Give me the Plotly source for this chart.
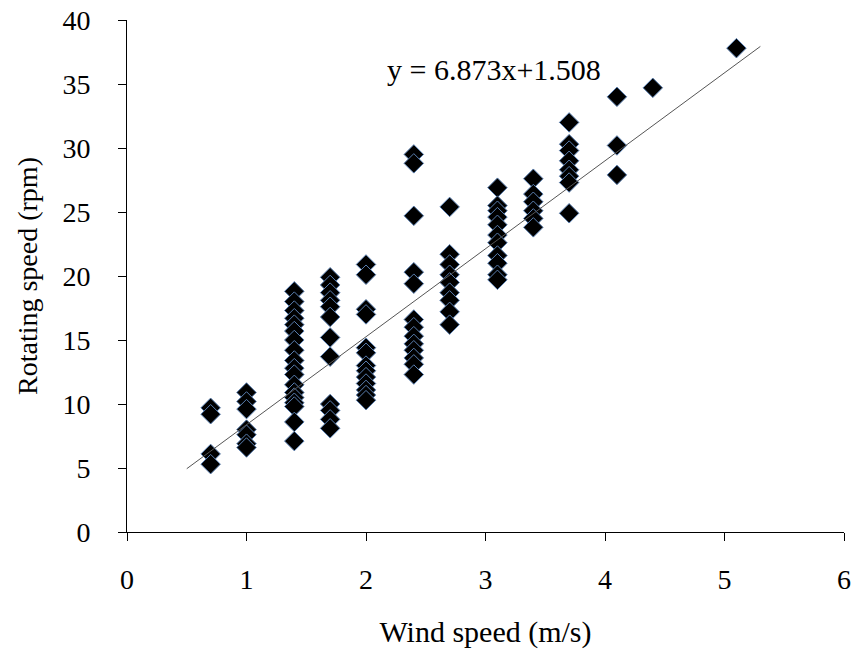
import plotly.graph_objects as go

wind_07 = [0.7] * 4
rot_07 = [9.7, 9.2, 6.1, 5.3]
wind_10 = [1.0] * 7
rot_10 = [10.9, 10.2, 9.6, 8.0, 7.6, 6.9, 6.6]
wind_14 = [1.4] * 18
rot_14 = [18.8, 18.0, 17.3, 16.7, 16.2, 15.7, 15.0, 14.2, 13.4, 12.8, 12.3, 11.5, 10.9, 10.5, 10.1, 9.8, 8.6, 7.1]
wind_17 = [1.7] * 12
rot_17 = [19.9, 19.3, 18.7, 18.1, 17.6, 16.8, 15.2, 13.7, 10.0, 9.5, 8.8, 8.1]
wind_20 = [2.0] * 13
rot_20 = [20.9, 20.1, 17.4, 17.0, 14.4, 14.0, 13.0, 12.6, 12.1, 11.6, 11.1, 10.7, 10.3]
wind_24 = [2.4] * 13
rot_24 = [29.5, 28.8, 24.7, 20.3, 19.4, 16.6, 16.0, 15.3, 14.7, 14.2, 13.6, 13.1, 12.3]
wind_27 = [2.7] * 9
rot_27 = [25.4, 21.7, 20.9, 20.1, 19.5, 18.7, 18.1, 17.2, 16.2]
wind_31 = [3.1] * 11
rot_31 = [26.9, 25.5, 25.1, 24.6, 24.0, 23.2, 22.6, 21.6, 21.0, 20.1, 19.7]
wind_34 = [3.4] * 6
rot_34 = [27.6, 26.4, 25.8, 25.1, 24.5, 23.8]
wind_37 = [3.7] * 8
rot_37 = [32.0, 30.3, 29.8, 29.0, 28.3, 27.8, 27.3, 24.9]
wind_hi = [4.1, 4.1, 4.1, 4.4, 5.1]
rot_hi = [34.0, 30.2, 27.9, 34.7, 37.8]

slope = 6.873
intercept = 1.508
fit_x = [0.5, 5.3]
equation = "y = 6.873x+1.508"

wind = wind_07 + wind_10 + wind_14 + wind_17 + wind_20 + wind_24 + wind_27 + wind_31 + wind_34 + wind_37 + wind_hi
rot = rot_07 + rot_10 + rot_14 + rot_17 + rot_20 + rot_24 + rot_27 + rot_31 + rot_34 + rot_37 + rot_hi

font = "Liberation Serif, Times New Roman, serif"

fig = go.Figure()
fig.add_trace(go.Scatter(
    x=wind, y=rot, mode="markers",
    marker=dict(symbol="diamond", size=15, color="black",
                line=dict(color="#5a7fb0", width=1)),
    showlegend=False,
))
fig.add_trace(go.Scatter(
    x=fit_x, y=[slope * v + intercept for v in fit_x], mode="lines",
    line=dict(color="#555555", width=1), showlegend=False,
))
fig.add_annotation(x=3.07, y=36.1, text=equation, showarrow=False,
                   font=dict(family=font, size=30, color="black"))

fig.update_layout(
    width=845, height=641,
    margin=dict(l=119, r=9, t=12, b=117, autoexpand=False),
    paper_bgcolor="white", plot_bgcolor="white",
    font=dict(family=font, size=28, color="black"),
)
fig.update_xaxes(
    range=[0, 6], dtick=1, showgrid=False, zeroline=False,
    showline=True, linecolor="black", linewidth=1,
    ticks="outside", ticklen=8, tickcolor="black",
    ticklabelstandoff=14, ticklabeloverflow="allow", automargin=False,
    title=dict(text="Wind speed (m/s)", font=dict(size=30), standoff=28),
    tickfont=dict(size=28),
)
fig.update_yaxes(
    range=[0, 40], dtick=5, showgrid=False, zeroline=False,
    showline=True, linecolor="black", linewidth=1,
    ticks="outside", ticklen=8, tickcolor="black",
    ticklabelstandoff=22, ticklabeloverflow="allow", automargin=False,
    title=dict(text="Rotating speed (rpm)", font=dict(size=28), standoff=16),
    tickfont=dict(size=28),
)

fig.write_html("out.html")
